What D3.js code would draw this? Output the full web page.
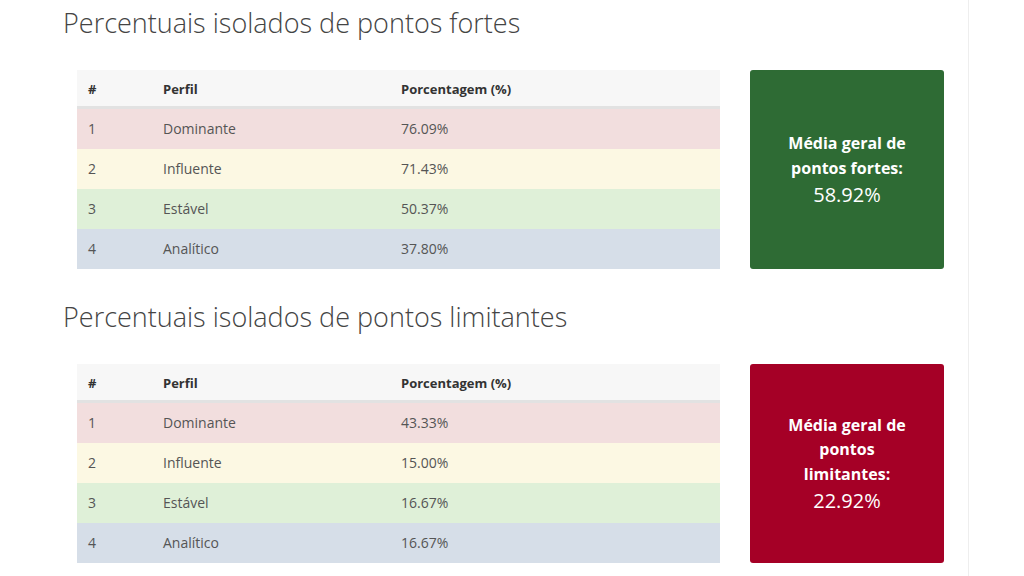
<!DOCTYPE html>
<html><head><meta charset="utf-8">
<script src="https://cdn.jsdelivr.net/npm/d3@7"></script>
<style>body{margin:0;background:#fff}text{font-family:"Open Sans",sans-serif}</style>
</head><body><svg id="chart" width="1024" height="576"></svg>
<script>
const perfis = ["Dominante", "Influente", "Estável", "Analítico"]
const fortes = [76.09, 71.43, 50.37, 37.80]
const limitantes = [43.33, 15.00, 16.67, 16.67]
const rowColors = ["#f2dede", "#fcf8e3", "#dff0d8", "#d6dee8"]

const svg = d3.select("#chart")
svg.append("line").attr("x1", 968.5).attr("x2", 968.5).attr("y1", 0).attr("y2", 576)
    .attr("stroke", "#eeeeee")

function section(top, title, values, boxLines, media, boxColor){
    svg.append("text").attr("x", 63).attr("y", top + 33).attr("font-size", 27)
        .attr("font-weight", 300).attr("fill", "#444").text(title)

    let tTop = top + 70
    let x = d3.scaleLinear().domain([0, 1]).range([77, 720])
    let y = d3.scaleBand().domain(d3.range(values.length)).range([tTop + 39, tTop + 39 + 40 * values.length])

    // header
    svg.append("rect").attr("x", x(0)).attr("y", tTop).attr("width", x(1) - x(0)).attr("height", 37).attr("fill", "#f7f7f7")
    svg.append("rect").attr("x", x(0)).attr("y", tTop + 36).attr("width", x(1) - x(0)).attr("height", 3).attr("fill", "#e2e2e2")
    let cols = [93 - 77, 163 - 77, 401 - 77].map(d => 77 + d)
    ;["#", "Perfil", "Porcentagem (%)"].forEach((h, i) => {
        svg.append("text").attr("x", cols[i] - (i == 0 ? 5 : 0)).attr("y", tTop + 24).attr("font-size", 13)
            .attr("font-weight", 700).attr("fill", "#333").text(h)
    })

    let g = svg.append("g")
    let rows = g.selectAll("g").data(values).join("g").attr("transform", (d, i) => `translate(0,${y(i)})`)
    rows.append("rect").attr("x", x(0)).attr("width", x(1) - x(0)).attr("height", y.bandwidth())
        .attr("fill", (d, i) => rowColors[i])
    rows.append("text").attr("x", cols[0] - 5).attr("y", 25).attr("font-size", 14).attr("fill", "#555").text((d, i) => i + 1)
    rows.append("text").attr("x", cols[1]).attr("y", 25).attr("font-size", 14).attr("fill", "#555").text((d, i) => perfis[i])
    rows.append("text").attr("x", cols[2]).attr("y", 25).attr("font-size", 14).attr("fill", "#555").text(d => d.toFixed(2) + "%")

    // summary box
    let bh = 199
    svg.append("rect").attr("x", 750).attr("y", tTop).attr("width", 194).attr("height", bh).attr("rx", 3).attr("fill", boxColor)
    let lh = 24.5
    let total = boxLines.length * lh + 28
    let start = tTop + bh / 2 - total / 2 + 18
    boxLines.forEach((l, i) => {
        svg.append("text").attr("x", 847).attr("y", start + i * lh).attr("text-anchor", "middle")
            .attr("font-size", 16).attr("font-weight", 700).attr("fill", "#fff").text(l)
    })
    svg.append("text").attr("x", 847).attr("y", start + boxLines.length * lh + 4).attr("text-anchor", "middle")
        .attr("font-size", 20).attr("fill", "#fff").text(media.toFixed(2) + "%")
}

section(0, "Percentuais isolados de pontos fortes", fortes, ["Média geral de", "pontos fortes:"], 58.92, "#2e6b34")
section(294, "Percentuais isolados de pontos limitantes", limitantes, ["Média geral de", "pontos", "limitantes:"], 22.92, "#a50026")
</script></body></html>
